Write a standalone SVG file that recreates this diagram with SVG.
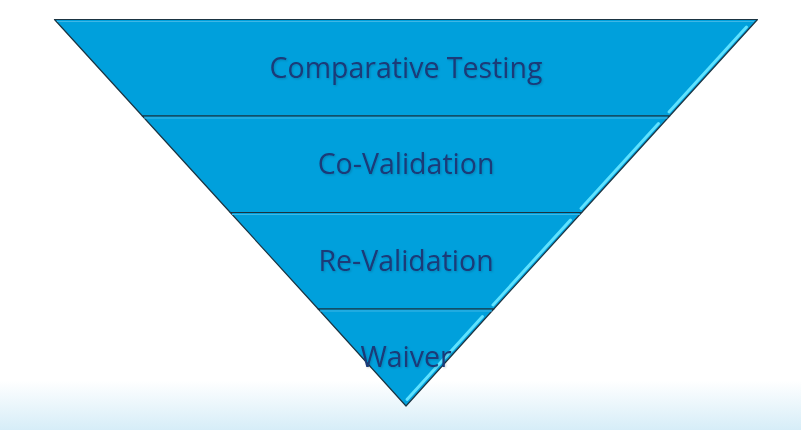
<svg xmlns="http://www.w3.org/2000/svg" width="801" height="430" viewBox="0 0 801 430">
<defs>
<linearGradient id="bg" x1="0" y1="0" x2="0" y2="1">
<stop offset="0" stop-color="#ffffff"/>
<stop offset="0.885" stop-color="#ffffff"/>
<stop offset="1" stop-color="#d6edf8"/>
</linearGradient>
<filter id="sh" x="-10%" y="-20%" width="120%" height="150%">
<feDropShadow dx="1" dy="1" stdDeviation="0.8" flood-color="#000" flood-opacity="0.18"/>
</filter>
<style>
.layer{fill:#00a0dc;stroke:#1b3442;stroke-width:1.2;stroke-linejoin:round}
.hl{stroke:#5fe2ff;stroke-width:3;stroke-linecap:round;fill:none}
.top{stroke:#3fb6e6;stroke-width:1;fill:none}
.lbl{font-family:"Open Sans","Noto Sans",sans-serif;font-size:28.5px;fill:#1a3a78;text-anchor:middle;filter:url(#sh)}
</style>
</defs>
<rect x="0" y="0" width="801" height="430" fill="url(#bg)"/>
<g id="layer-comparative-testing">
<polygon class="layer" points="54.5,19.5 757.5,19.5 669.6,116 142.4,116"/>
<line class="top" x1="57" y1="21.5" x2="754" y2="21.5"/>
<line class="hl" x1="746.5" y1="27" x2="669" y2="112"/>
<text class="lbl" x="406" y="78">Comparative Testing</text>
</g>
<g id="layer-co-validation">
<polygon class="layer" points="142.4,116 669.6,116 581.7,212.5 230.3,212.5"/>
<line class="top" x1="144" y1="118" x2="667.5" y2="118"/>
<line class="hl" x1="658.5" y1="123.5" x2="581" y2="208.5"/>
<text class="lbl" x="406" y="174">Co-Validation</text>
</g>
<g id="layer-re-validation">
<polygon class="layer" points="230.3,212.5 581.7,212.5 493.8,309 318.2,309"/>
<line class="top" x1="232" y1="214.5" x2="579.8" y2="214.5"/>
<line class="hl" x1="570.5" y1="220" x2="493" y2="305"/>
<text class="lbl" x="406" y="271">Re-Validation</text>
</g>
<g id="layer-waiver">
<polygon class="layer" points="318.2,309 493.8,309 406,406"/>
<line class="top" x1="320" y1="311" x2="492" y2="311"/>
<line class="hl" x1="482.5" y1="316.5" x2="407" y2="399.5"/>
<text class="lbl" x="406" y="367">Waiver</text>
</g>
</svg>
